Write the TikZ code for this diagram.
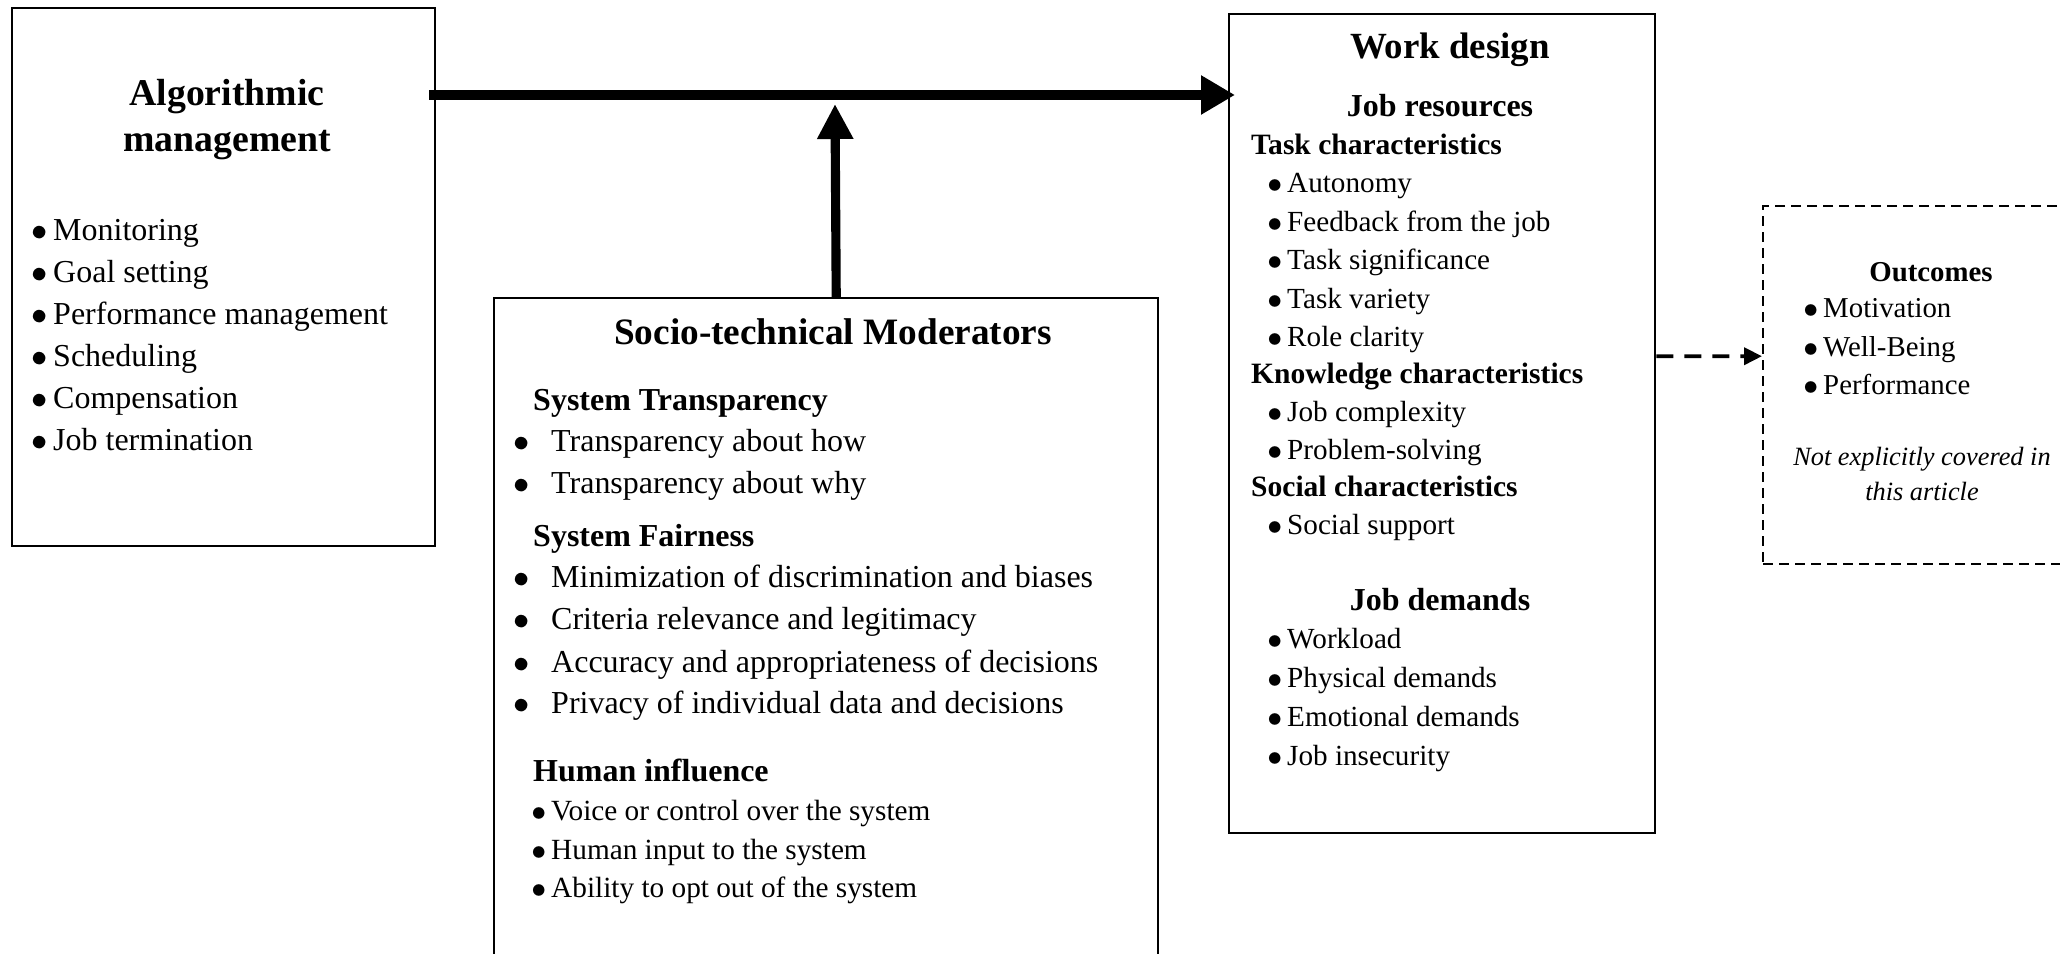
\documentclass[tikz,border=0pt]{standalone}
\usepackage{fontspec}
\setmainfont{Liberation Serif}
\usetikzlibrary{arrows.meta, positioning}

\newcommand{\bul}[1]{\llap{$\bullet$\hspace{#1}}}

\tikzset{
  every picture/.style={line width=0.7pt},
  panel/.style={draw, line width=0.7pt, anchor=north west, inner sep=0pt},
  dashpanel/.style={panel, dash pattern=on 0.1cm off 0.06cm},
  title/.style={font=\bfseries\fontsize{#1}{#1}\selectfont, inner sep=0pt, anchor=mid},
  head/.style={font=\bfseries\fontsize{#1}{#1}\selectfont, inner sep=0pt, anchor=mid west},
  item/.style={font=\fontsize{#1}{#1}\selectfont, inner sep=0pt, anchor=mid west},
  flow/.style={-{Triangle[length=3.4mm, width=3.7mm]}, line width=3.1pt},
  moderate/.style={-{Triangle[length=3.5mm, width=3.4mm]}, line width=2.6pt},
  later/.style={-{Triangle[length=1.8mm, width=1.7mm]}, line width=1.1pt, dash pattern=on 0.17cm off 0.11cm},
}

\begin{document}
\begin{tikzpicture}
  \useasboundingbox (0,0) rectangle (20.6,-9.54);

  % the four panels
  \node[panel, minimum width=4.23cm, minimum height=5.38cm] (algo) at (0.11,-0.07) {};
  \node[panel, minimum width=4.26cm, minimum height=8.19cm] (design) at (12.28,-0.13) {};
  \node[panel, minimum width=6.64cm, minimum height=7.2cm] (moder) at (4.93,-2.97) {};
  \node[dashpanel, minimum width=3.6cm, minimum height=3.58cm] (outcome) at (17.62,-2.05) {};

  % algorithmic management
  \node[font=\bfseries\fontsize{10.75}{13.1}\selectfont, align=center, inner sep=0pt] (amtitle) at (2.27,-1.20) {Algorithmic\\management};
  \foreach \t [count=\i from 0] in {Monitoring, Goal setting, Performance management, Scheduling, Compensation, Job termination}
    \node[item=9.1] (am\i) at (0.52,-2.32-0.42*\i) {\bul{0.05cm}\t};

  % work design
  \node[title=10.5] (wdtitle) at (14.50,-0.50) {Work design};
  \node[title=9.1] (jobres) at (14.40,-1.085) {Job resources};
  \foreach \y/\t [count=\i] in {1.46/Task characteristics, 3.75/Knowledge characteristics, 4.885/Social characteristics}
    \node[head=8.4] (char\i) at (12.50,-\y) {\t};
  \foreach \y/\t [count=\i] in {1.845/Autonomy, 2.235/Feedback from the job, 2.615/Task significance, 3.005/Task variety, 3.385/Role clarity, 4.135/Job complexity, 4.515/Problem-solving, 5.265/Social support}
    \node[item=8.3] (res\i) at (12.86,-\y) {\bul{0.05cm}\t};
  \node[title=9.1] (jobdem) at (14.40,-6.025) {Job demands};
  \foreach \t [count=\i from 0] in {Workload, Physical demands, Emotional demands, Job insecurity}
    \node[item=8.3] (dem\i) at (12.86,-6.40-0.39*\i) {\bul{0.05cm}\t};

  % socio-technical moderators
  \node[title=10.6] (modtitle) at (8.33,-3.36) {Socio-technical Moderators};
  \foreach \y/\t [count=\i] in {4.025/System Transparency, 5.385/System Fairness, 7.735/Human influence}
    \node[head=9.1] (sys\i) at (5.32,-\y) {\t};
  \foreach \y/\t [count=\i] in {4.435/Transparency about how, 4.85/Transparency about why, 5.795/Minimization of discrimination and biases, 6.215/Criteria relevance and legitimacy, 6.645/Accuracy and appropriateness of decisions, 7.05/Privacy of individual data and decisions}
    \node[item=9.1] (fair\i) at (5.50,-\y) {\bul{0.21cm}\t};
  \foreach \y/\t [count=\i] in {8.125/Voice or control over the system, 8.51/Human input to the system, 8.89/Ability to opt out of the system}
    \node[item=8.33] (human\i) at (5.50,-\y) {\bul{0.05cm}\t};

  % outcomes
  \node[title=8.2] (outtitle) at (19.31,-2.735) {Outcomes};
  \foreach \y/\t [count=\i] in {3.095/Motivation, 3.485/Well-Being, 3.865/Performance}
    \node[item=8.2] (out\i) at (18.22,-\y) {\bul{0.05cm}\t};
  \node[font=\itshape\fontsize{7.5}{9.7}\selectfont, align=center, inner sep=0pt] (outnote) at (19.22,-4.74) {Not explicitly covered in\\this article};

  % connectors
  \coordinate (modtip) at (8.35,-1.04);
  \draw[flow] ([xshift=-0.07cm, yshift=-0.88cm]algo.north east) -- ([xshift=0.07cm, yshift=-0.82cm]design.north west);
  \draw[moderate] ([xshift=0.1cm]moder.north) -- (modtip);
  \draw[later] ([yshift=0.675cm]design.east) -- ([yshift=0.29cm]outcome.west);
\end{tikzpicture}
\end{document}
